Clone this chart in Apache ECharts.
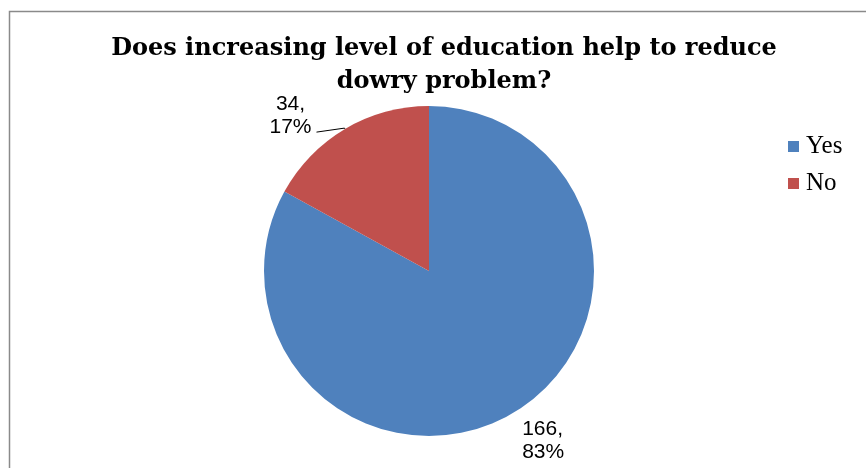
<!DOCTYPE html>
<html>
<head>
<meta charset="utf-8">
<script src="https://cdn.jsdelivr.net/npm/echarts@6/dist/echarts.min.js"></script>
<style>
  html, body { margin: 0; padding: 0; background: #fff; }
  #chart { width: 866px; height: 468px; }
</style>
</head>
<body>
<div id="chart"></div>
<script>
// Survey answers
const categories = ['Yes', 'No'];
const counts = [166, 34];
const colors = ['#4F81BD', '#C0504D'];

const chart = echarts.init(document.getElementById('chart'), null, { renderer: 'canvas' });

const pieData = categories.map((name, i) => ({
  name: name,
  value: counts[i],
  itemStyle: { color: colors[i] }
}));

// per-slice leader lines: none for the large slice, short one for the small slice
pieData[0].labelLine = { show: false, length: 18, length2: 0 };
pieData[1].labelLine = { show: true, length: 1, length2: 28 };

// nudge labels so the small slice label sits above its leader line
const labelShift = [
  { dx: -5, dy: 12, center: false, lineDrop: 0 },
  { dx: 0, dy: -12, center: true, lineDrop: 4 }
];

chart.setOption({
  animation: false,
  backgroundColor: '#ffffff',
  graphic: [{
    type: 'rect',
    shape: { x: 9.5, y: 11.5, width: 900, height: 500 },
    style: { fill: 'none', stroke: '#8a8a8a', lineWidth: 1.5 },
    silent: true
  }],
  title: {
    text: 'Does increasing level of education help to reduce\ndowry problem?',
    left: 444,
    top: 32,
    textAlign: 'center',
    padding: 0,
    textStyle: {
      fontFamily: 'DejaVu Serif',
      fontWeight: 'bold',
      fontSize: 24,
      lineHeight: 33,
      color: '#000'
    }
  },
  legend: {
    orient: 'vertical',
    left: 783,
    top: 129,
    itemWidth: 11,
    itemHeight: 11,
    itemGap: 12,
    icon: 'rect',
    textStyle: { fontFamily: 'Liberation Serif', fontSize: 25, color: '#000', padding: [0, 0, 0, 2] },
    data: categories
  },
  series: [{
    type: 'pie',
    center: [429, 271],
    radius: 165,
    startAngle: 90,
    clockwise: true,
    avoidLabelOverlap: false,
    data: pieData,
    label: {
      show: true,
      position: 'outside',
      formatter: '{c},\n{d}%',
      fontFamily: 'Liberation Sans',
      fontSize: 21,
      lineHeight: 23,
      color: '#000'
    },
    labelLine: {
      lineStyle: { color: '#000', width: 1 }
    },
    labelLayout: function (params) {
      const s = labelShift[params.dataIndex];
      const out = { dx: s.dx, dy: s.dy };
      if (s.center) {
        out.align = 'center';
        out.dx = s.dx - params.labelRect.width / 2;
      }
      const pts = params.labelLinePoints;
      if (pts && s.lineDrop) {
        out.labelLinePoints = pts.map((p, i) =>
          i === pts.length - 1 ? [p[0], p[1] + s.lineDrop] : [p[0], p[1]]
        );
      }
      return out;
    }
  }]
});
</script>
</body>
</html>
